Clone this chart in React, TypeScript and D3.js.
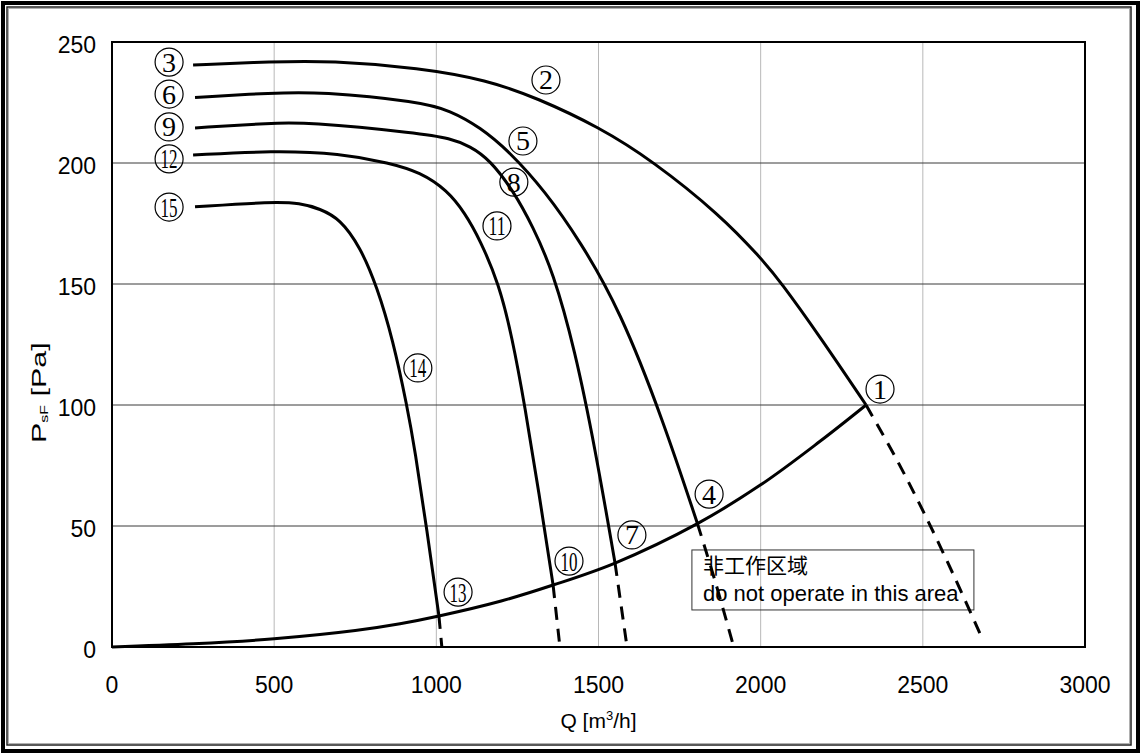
import { useEffect, useRef } from "react";
import * as d3 from "d3";

// axis ticks
const xTicks = [0, 500, 1000, 1500, 2000, 2500, 3000];
const yTicks = [0, 50, 100, 150, 200, 250];

// fan curves, solid part: [Q m3/h, Psf Pa]
const curveA = [[250, 240.5], [496, 241.9], [672, 242.3], [950, 239.3], [1156, 234.3], [1310, 226.9], [1501, 214.9], [1668, 200.8], [1875, 178.5], [1998, 161.1], [2060, 151.2], [2183, 128.2], [2325, 100]];
const curveB = [[256, 227.1], [496, 229], [641, 229.5], [950, 225.3], [1042, 221.7], [1135, 214.8], [1227, 204.5], [1335, 188.4], [1443, 167.8], [1566, 139.3], [1699, 93.8], [1805, 51]];
const curveC = [[256, 214.5], [496, 216.5], [595, 216.9], [950, 212.3], [1042, 210.2], [1104, 207], [1165, 201.3], [1236, 188.8], [1298, 173.7], [1360, 155], [1427, 122.9], [1489, 82.6], [1551, 34.7]];
const curveD = [[250, 203.3], [496, 205.1], [703, 204], [857, 200], [950, 196.2], [1033, 188.8], [1088, 179.4], [1135, 168.2], [1193, 150], [1233, 128.5], [1273, 99.6], [1317, 63.2], [1360, 25.6]];
const curveE = [[256, 181.9], [496, 184], [580, 183.4], [641, 181.1], [703, 176.9], [765, 165.4], [817, 148.9], [866, 127], [910, 99.4], [934, 81.4], [971, 48.3], [1008, 12.8]];

// dashed parts (not allowed operating range)
const extA = [[2325, 100], [2420, 77.3], [2507, 54.5], [2599, 28.5], [2685, 2.9]];
const extB = [[1805, 51], [1860, 27], [1915, 1]];
const extC = [[1551, 34.7], [1588, 0]];
const extD = [[1360, 25.6], [1381, 0]];
const extE = [[1008, 12.8], [1017, 0]];

// lower limit curve
const limitCurve = [[0, 0], [250, 1.3], [500, 3.4], [750, 6.8], [888, 9.6], [1008, 12.8], [1200, 19], [1360, 25.6], [1551, 34.7], [1805, 51], [2000, 67], [2183, 85], [2325, 100]];

// numbered points
const pointNames = ["1", "2", "3", "4", "5", "6", "7", "8", "9", "10", "11", "12", "13", "14", "15"];
const pointQ = [2368, 1338, 176, 1841, 1267, 176, 1603, 1239, 176, 1409, 1187, 176, 1067, 943, 176];
const pointP = [106.6, 234.3, 241.7, 63.2, 209.1, 228.5, 46.3, 192.1, 214.9, 35.5, 174, 201.7, 22.7, 115.3, 181.8];

const noteLines = ["非工作区域", "do not operate in this area"];
const noteCorner = [1788, 40.1];

const SANS = "'Liberation Sans', Arial, sans-serif";
const SERIF = "'Liberation Serif', 'Times New Roman', serif";

export default function App() {
    const ref = useRef<SVGSVGElement>(null);

    useEffect(() => {
        const svg = d3.select(ref.current);
        svg.selectAll("*").remove();

        const x = d3.scaleLinear().domain([0, 3000]).range([112, 1085]);
        const y = d3.scaleLinear().domain([0, 250]).range([647, 42]);

        svg.append("rect").attr("width", 1142).attr("height", 755).attr("fill", "#fff");

        // double frame
        svg.append("rect").attr("x", 3).attr("y", 3).attr("width", 1135).attr("height", 748)
            .attr("fill", "none").attr("stroke", "#000").attr("stroke-width", 4);
        svg.append("rect").attr("x", 7).attr("y", 7).attr("width", 1124).attr("height", 738)
            .attr("fill", "none").attr("stroke", "#222").attr("stroke-width", 1.5);
        svg.append("rect").attr("x", 8.5).attr("y", 8.5).attr("width", 1121).attr("height", 735)
            .attr("fill", "none").attr("stroke", "#b0b0b0").attr("stroke-width", 1);

        // grid
        svg.append("g").selectAll("line").data(xTicks.slice(1, -1)).enter().append("line")
            .attr("x1", d => x(d)).attr("x2", d => x(d))
            .attr("y1", y(0)).attr("y2", y(250))
            .attr("stroke", "#b8b8b8").attr("stroke-width", 1);
        svg.append("g").selectAll("line").data(yTicks.slice(1, -1)).enter().append("line")
            .attr("x1", x(0)).attr("x2", x(3000))
            .attr("y1", d => y(d)).attr("y2", d => y(d))
            .attr("stroke", "#3a3a3a").attr("stroke-width", 1);

        svg.append("rect")
            .attr("x", x(0)).attr("y", y(250))
            .attr("width", x(3000) - x(0)).attr("height", y(0) - y(250))
            .attr("fill", "none").attr("stroke", "#000").attr("stroke-width", 2);

        // tick labels
        svg.append("g").selectAll("text").data(yTicks).enter().append("text")
            .attr("x", 96).attr("y", d => y(d) + 11)
            .attr("text-anchor", "end")
            .style("font-family", SANS).style("font-size", "23px")
            .text(d => d);
        svg.append("g").selectAll("text").data(xTicks).enter().append("text")
            .attr("x", d => x(d)).attr("y", 693)
            .attr("text-anchor", "middle")
            .style("font-family", SANS).style("font-size", "23px")
            .text(d => d);

        // axis titles (y title is stretched like the original)
        const yt = svg.append("text")
            .attr("transform", "translate(46,443) rotate(-90) scale(1.45,1)")
            .style("font-family", SANS).style("font-size", "21px");
        yt.append("tspan").text("P");
        yt.append("tspan").attr("dy", 2).style("font-size", "11px").text("sF");
        yt.append("tspan").attr("dy", -2).text(" [Pa]");

        const xt = svg.append("text")
            .attr("x", (x(0) + x(3000)) / 2).attr("y", 728)
            .attr("text-anchor", "middle")
            .style("font-family", SANS).style("font-size", "21px");
        xt.append("tspan").text("Q [m");
        xt.append("tspan").attr("dy", -8).style("font-size", "13px").text("3");
        xt.append("tspan").attr("dy", 8).text("/h]");

        // note box
        const nx = x(noteCorner[0]);
        const ny = y(noteCorner[1]);
        svg.append("rect").attr("x", nx).attr("y", ny).attr("width", 282).attr("height", 60)
            .attr("fill", "none").attr("stroke", "#333").attr("stroke-width", 1);
        svg.append("text").attr("x", nx + 11).attr("y", ny + 23)
            .style("font-family", "'Noto Sans CJK SC', sans-serif").style("font-size", "21px")
            .text(noteLines[0]);
        svg.append("text").attr("x", nx + 11).attr("y", ny + 51)
            .style("font-family", SANS).style("font-size", "22px")
            .text(noteLines[1]);

        // fan curves smoothed, limit curve through its points
        const fanLine = d3.line<number[]>()
            .x(d => x(d[0]))
            .y(d => y(d[1]))
            .curve(d3.curveBasis);
        const line = d3.line<number[]>()
            .x(d => x(d[0]))
            .y(d => y(d[1]))
            .curve(d3.curveCatmullRom.alpha(0.5));

        [curveA, curveB, curveC, curveD, curveE].forEach(c => {
            svg.append("path").datum(c).attr("d", fanLine)
                .attr("fill", "none").attr("stroke", "#000")
                .attr("stroke-width", 3).attr("stroke-linejoin", "round");
        });
        svg.append("path").datum(limitCurve).attr("d", line)
            .attr("fill", "none").attr("stroke", "#000").attr("stroke-width", 3);

        [extA, extB, extC, extD, extE].forEach(c => {
            svg.append("path").datum(c).attr("d", line)
                .attr("fill", "none").attr("stroke", "#000")
                .attr("stroke-width", 3).attr("stroke-dasharray", "13,9");
        });

        // circled numbers
        const pts = pointNames.map((n, i) => ({ n, q: pointQ[i], p: pointP[i] }));
        const g = svg.append("g").selectAll("g").data(pts).enter().append("g")
            .attr("transform", d => `translate(${x(d.q)},${y(d.p)})`);
        g.append("circle").attr("r", 14)
            .attr("fill", "none").attr("stroke", "#000").attr("stroke-width", 1.2);
        g.append("text")
            .attr("y", 9.5)
            .attr("text-anchor", "middle")
            .style("font-family", SERIF).style("font-size", "28px")
            .each(function (d) {
                if (d.n.length > 1) {
                    d3.select(this).attr("textLength", 17).attr("lengthAdjust", "spacingAndGlyphs");
                }
            })
            .text(d => d.n);
    }, []);

    return (
        <svg ref={ref} width={1142} height={755}
            style={{ position: "absolute", left: 0, top: 0, display: "block" }} />
    );
}
